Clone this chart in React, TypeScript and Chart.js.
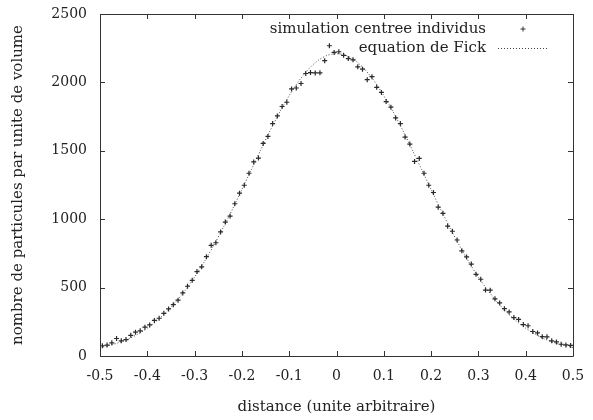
import React, { useEffect, useRef } from "react";
import { Chart, registerables } from "chart.js";

Chart.register(...registerables);

const FONT_FAMILY = "'DejaVu Serif', serif";
const TICK_SIZE = 14;
const TEXT_SIZE = 15;
const INK = "#222";

const xTitle = "distance (unite arbitraire)";
const yTitle = "nombre de particules par unite de volume";
const simLabel = "simulation centree individus";
const fickLabel = "equation de Fick";

const simX = [
  -0.495, -0.485, -0.475, -0.465, -0.455, -0.445, -0.435, -0.425, -0.415, -0.405,
  -0.395, -0.385, -0.375, -0.365, -0.355, -0.345, -0.335, -0.325, -0.315, -0.305,
  -0.295, -0.285, -0.275, -0.265, -0.255, -0.245, -0.235, -0.225, -0.215, -0.205,
  -0.195, -0.185, -0.175, -0.165, -0.155, -0.145, -0.135, -0.125, -0.115, -0.105,
  -0.095, -0.085, -0.075, -0.065, -0.055, -0.045, -0.035, -0.025, -0.015, -0.005,
  0.005, 0.015, 0.025, 0.035, 0.045, 0.055, 0.065, 0.075, 0.085, 0.095,
  0.105, 0.115, 0.125, 0.135, 0.145, 0.155, 0.165, 0.175, 0.185, 0.195,
  0.205, 0.215, 0.225, 0.235, 0.245, 0.255, 0.265, 0.275, 0.285, 0.295,
  0.305, 0.315, 0.325, 0.335, 0.345, 0.355, 0.365, 0.375, 0.385, 0.395,
  0.405, 0.415, 0.425, 0.435, 0.445, 0.455, 0.465, 0.475, 0.485, 0.495,
];

const simY = [
  75, 80, 96, 128, 111, 120, 151, 174, 184, 211,
  227, 260, 276, 312, 344, 375, 408, 461, 510, 553,
  617, 652, 726, 809, 828, 907, 979, 1023, 1113, 1190,
  1248, 1336, 1419, 1447, 1554, 1605, 1699, 1755, 1824, 1855,
  1952, 1959, 1992, 2065, 2072, 2069, 2070, 2159, 2268, 2219,
  2224, 2198, 2174, 2165, 2114, 2097, 2020, 2042, 1964, 1927,
  1860, 1819, 1740, 1699, 1600, 1549, 1422, 1444, 1336, 1248,
  1195, 1088, 1043, 949, 912, 848, 769, 724, 672, 597,
  561, 482, 481, 418, 388, 346, 322, 281, 267, 230,
  221, 179, 169, 141, 140, 111, 103, 86, 81, 77,
];

const fickX = [
  -0.5, -0.48, -0.46, -0.44, -0.42, -0.4, -0.38, -0.36, -0.34, -0.32,
  -0.3, -0.28, -0.26, -0.24, -0.22, -0.2, -0.18, -0.16, -0.14, -0.12,
  -0.1, -0.08, -0.06, -0.04, -0.02, 0, 0.02, 0.04, 0.06, 0.08,
  0.1, 0.12, 0.14, 0.16, 0.18, 0.2, 0.22, 0.24, 0.26, 0.28,
  0.3, 0.32, 0.34, 0.36, 0.38, 0.4, 0.42, 0.44, 0.46, 0.48, 0.5,
];

const fickY = [
  62, 78, 98, 125, 160, 203, 256, 319, 394, 479,
  577, 686, 806, 936, 1073, 1217, 1363, 1508, 1650, 1783,
  1903, 2009, 2094, 2158, 2197, 2210, 2197, 2158, 2094, 2009,
  1903, 1783, 1650, 1508, 1363, 1217, 1073, 936, 806, 686,
  577, 479, 394, 319, 256, 203, 160, 125, 98, 78, 62,
];

const xMin = -0.5;
const xMax = 0.5;
const xStep = 0.1;
const yMin = 0;
const yMax = 2500;
const yStep = 500;

const framePlugin = {
  id: "gnuplotFrame",
  afterDraw(chart: any) {
    const { ctx, chartArea } = chart;
    const { left, right, top, bottom } = chartArea;
    ctx.save();
    ctx.strokeStyle = "#333";
    ctx.lineWidth = 1;
    ctx.beginPath();
    ctx.rect(Math.round(left) + 0.5, Math.round(top) + 0.5, Math.round(right - left), Math.round(bottom - top));
    ctx.stroke();
    const tl = 5;
    const xs = chart.scales.x;
    ctx.beginPath();
    xs.ticks.forEach((t: any) => {
      const px = Math.round(xs.getPixelForValue(t.value)) + 0.5;
      ctx.moveTo(px, bottom);
      ctx.lineTo(px, bottom - tl);
      ctx.moveTo(px, top);
      ctx.lineTo(px, top + tl);
    });
    const ys = chart.scales.y;
    ys.ticks.forEach((t: any) => {
      const py = Math.round(ys.getPixelForValue(t.value)) + 0.5;
      ctx.moveTo(left, py);
      ctx.lineTo(left + tl, py);
      ctx.moveTo(right, py);
      ctx.lineTo(right - tl, py);
    });
    ctx.stroke();

    // legend (gnuplot style: text right-aligned, sample on the right)
    const ds = chart.data.datasets;
    ctx.font = `${TEXT_SIZE}px ${FONT_FAMILY}`;
    ctx.fillStyle = INK;
    ctx.textAlign = "right";
    ctx.textBaseline = "middle";
    const textRight = right - 87;
    const sampleL = right - 75;
    const sampleR = right - 25;
    const rowY = [top + 15, top + 34];
    ctx.fillText(ds[0].label, textRight, rowY[0]);
    ctx.fillText(ds[1].label, textRight, rowY[1]);
    const cx = (sampleL + sampleR) / 2;
    ctx.strokeStyle = "#333";
    ctx.beginPath();
    ctx.moveTo(cx - 2.5, rowY[0]);
    ctx.lineTo(cx + 2.5, rowY[0]);
    ctx.moveTo(cx, rowY[0] - 2.5);
    ctx.lineTo(cx, rowY[0] + 2.5);
    ctx.stroke();
    ctx.setLineDash([1, 2]);
    ctx.strokeStyle = "#444";
    ctx.beginPath();
    ctx.moveTo(sampleL, Math.round(rowY[1]) + 0.5);
    ctx.lineTo(sampleR, Math.round(rowY[1]) + 0.5);
    ctx.stroke();
    ctx.restore();
  },
};

export default function App() {
  const ref = useRef<HTMLCanvasElement>(null);

  useEffect(() => {
    document.body.style.margin = "0";
    const canvas = ref.current;
    if (!canvas) return;
    const tickFont = { family: FONT_FAMILY, size: TICK_SIZE };
    const textFont = { family: FONT_FAMILY, size: TEXT_SIZE };
    const chart = new Chart(canvas, {
      type: "scatter",
      data: {
        datasets: [
          {
            label: simLabel,
            data: simX.map((x, i) => ({ x, y: simY[i] })),
            showLine: false,
            pointStyle: "cross",
            pointRadius: 2.5,
            pointBorderWidth: 1.2,
            borderColor: "#2a2a2a",
            backgroundColor: "#2a2a2a",
            order: 1,
          },
          {
            label: fickLabel,
            data: fickX.map((x, i) => ({ x, y: fickY[i] })),
            showLine: true,
            pointRadius: 0,
            borderWidth: 1,
            borderColor: "#444",
            borderDash: [1, 2],
            tension: 0.3,
            fill: false,
            order: 2,
          },
        ],
      },
      options: {
        responsive: false,
        animation: false,
        devicePixelRatio: 1,
        layout: { padding: { left: 0, right: 20, top: 14, bottom: 0 } },
        plugins: {
          legend: { display: false },
          tooltip: { enabled: false },
        },
        scales: {
          x: {
            type: "linear",
            min: xMin,
            max: xMax,
            grid: { display: false, drawTicks: false },
            border: { display: false },
            ticks: {
              stepSize: xStep,
              color: INK,
              font: tickFont,
              padding: 12,
              maxRotation: 0,
              callback: (v: any) => String(Math.round(Number(v) * 10) / 10),
            },
            title: {
              display: true,
              text: xTitle,
              color: INK,
              font: textFont,
              padding: { top: 0, bottom: 4 },
            },
            afterFit: (s: any) => {
              s.height = 64;
              s.paddingLeft = 0;
              s.paddingRight = 0;
            },
          },
          y: {
            type: "linear",
            min: yMin,
            max: yMax,
            grid: { display: false, drawTicks: false },
            border: { display: false },
            ticks: {
              stepSize: yStep,
              color: INK,
              font: tickFont,
              padding: 13,
              callback: (v: any) => String(v),
            },
            title: {
              display: true,
              text: yTitle,
              color: INK,
              font: textFont,
              padding: { top: 9, bottom: 0 },
            },
            afterFit: (s: any) => {
              s.width = 100;
              s.paddingTop = 0;
              s.paddingBottom = 0;
            },
          },
        },
      },
      plugins: [framePlugin],
    });
    return () => chart.destroy();
  }, []);

  return (
    <div style={{ width: 593, height: 420, background: "#fff" }}>
      <canvas ref={ref} width={593} height={420} />
    </div>
  );
}
